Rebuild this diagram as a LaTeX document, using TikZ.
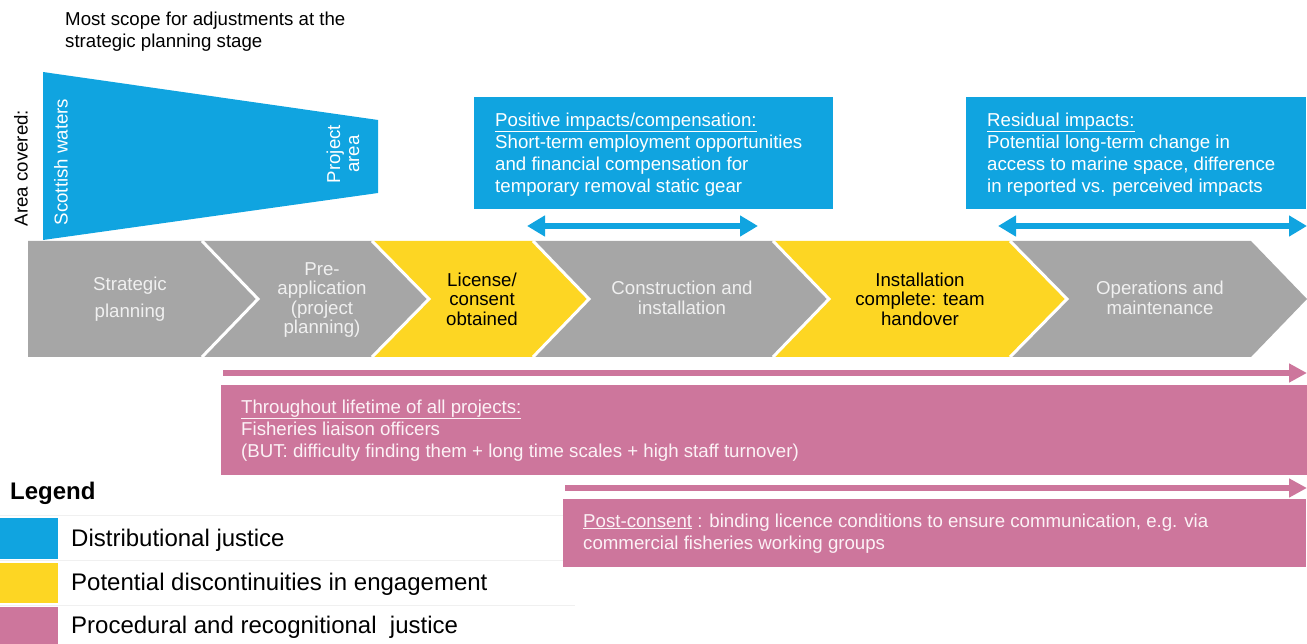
\documentclass[tikz,border=0pt]{standalone}
\usepackage{fontspec}
\setmainfont{Liberation Sans}
\usetikzlibrary{arrows.meta}

\definecolor{distblue}{RGB}{16,164,224}
\definecolor{gapyellow}{RGB}{253,214,35}
\definecolor{stagegray}{RGB}{166,166,166}
\definecolor{procpink}{RGB}{205,118,156}
\definecolor{paletext}{RGB}{252,242,246}

\begin{document}
\begin{tikzpicture}[x=1pt, y=-1pt, line join=miter,
    every node/.style={font=\fontsize{18.67}{22}\selectfont},
    stagetext/.style={align=center, text=white!94!black, font=\fontsize{18.67}{19.5}\selectfont},
    box/.style={anchor=north west, inner sep=0pt},
    boxtext/.style={anchor=west, align=left, inner sep=0pt},
    swatch/.style={anchor=north west, inner sep=0pt, minimum width=58pt},
    keytext/.style={anchor=base west, inner sep=0pt, font=\fontsize{24}{28}\selectfont},
    blueline/.style={distblue, line width=6pt, {Triangle[length=18pt,width=20pt]}-{Triangle[length=18pt,width=20pt]}},
    pinkline/.style={procpink, line width=6pt, -{Triangle[length=18pt,width=18pt]}}]

                \useasboundingbox (0,0) rectangle (1307,644);

                % faint rules of the legend table
                \draw[black!6] (0,515) -- (575,515);
                \draw[black!6] (0,560) -- (575,560);
                \draw[black!6] (0,605) -- (575,605);

                % funnel of the area covered
                \fill[distblue] (43,72) -- (378,120) -- (378,193) -- (43,240) -- cycle;
                \node[rotate=90] (covered) at (21,168) {Area covered:};
                \node[rotate=90, text=white] (waters) at (61,162) {Scottish waters};
                \node[rotate=90, align=center, text=white, font=\fontsize{18.67}{19}\selectfont] (projarea) at (343,154) {Project\\area};
                \node[anchor=north west, align=left, inner sep=0pt] (scope) at (65,12) {Most scope for adjustments at the\\strategic planning stage};

                % project stages
                \fill[stagegray] (28,241) -- (202,241) -- (258,299) -- (202,357) -- (28,357) -- cycle;
                \fill[stagegray] (202,241) -- (372,241) -- (429,299) -- (372,357) -- (202,357) -- (258,299) -- cycle;
                \fill[gapyellow] (372,241) -- (533,241) -- (589,299) -- (533,357) -- (372,357) -- (429,299) -- cycle;
                \fill[stagegray] (533,241) -- (773,241) -- (829,299) -- (773,357) -- (533,357) -- (589,299) -- cycle;
                \fill[gapyellow] (773,241) -- (1010,241) -- (1067,299) -- (1010,357) -- (773,357) -- (829,299) -- cycle;
                \fill[stagegray] (1010,241) -- (1251,241) -- (1307,299) -- (1251,357) -- (1010,357) -- (1067,299) -- cycle;

                \draw[white, line width=3pt] (202,241) -- (258,299) -- (202,357);
                \draw[white, line width=3pt] (372,241) -- (429,299) -- (372,357);
                \draw[white, line width=3pt] (533,241) -- (589,299) -- (533,357);
                \draw[white, line width=3pt] (773,241) -- (829,299) -- (773,357);
                \draw[white, line width=3pt] (1010,241) -- (1067,299) -- (1010,357);

                \node[stagetext] (strat) at (130,299) {Strategic\\[7pt]planning};
                \node[stagetext] (preapp) at (322,300) {Pre-\\application\\(project\\planning)};
                \node[stagetext, text=black] (licence) at (482,299) {License/\\consent\\obtained};
                \node[stagetext] (constr) at (682,298) {Construction and\\installation};
                \node[stagetext, text=black] (handover) at (920,299) {Installation\\complete: team\\handover};
                \node[stagetext] (ops) at (1160,298) {Operations and\\maintenance};

                % distributional justice
                \node[box, fill=distblue, minimum width=359pt, minimum height=112pt] (posbox) at (474,97) {};
                \node[boxtext, text=white] (postext) at ([xshift=21pt, yshift=-1pt]posbox.west) {\underline{Positive impacts/compensation:}\\Short-term employment opportunities\\and financial compensation for\\temporary removal static gear};
                \coordinate (pos l) at (527,226);
                \coordinate (pos r) at (758,226);
                \draw[blueline] (pos l) -- (pos r);

                \node[box, fill=distblue, minimum width=340pt, minimum height=112pt] (resbox) at (966,97) {};
                \node[boxtext, text=white] (restext) at ([xshift=21pt, yshift=-1pt]resbox.west) {\underline{Residual impacts:}\\Potential long-term change in\\access to marine space, difference\\in reported vs. perceived impacts};
                \coordinate (res l) at (998,226);
                \coordinate (res r) at (1307,226);
                \draw[blueline] (res l) -- (res r);

                % procedural and recognitional justice
                \coordinate (life l) at (223,373);
                \coordinate (life r) at (1307,373);
                \draw[pinkline] (life l) -- (life r);
                \node[box, fill=procpink, minimum width=1086pt, minimum height=90pt] (lifebox) at (221,385) {};
                \node[boxtext, text=paletext] (lifetext) at ([xshift=20pt]lifebox.west) {\underline{Throughout lifetime of all projects:}\\Fisheries liaison officers\\(BUT: difficulty finding them + long time scales + high staff turnover)};

                \coordinate (post l) at (565,488);
                \coordinate (post r) at (1307,488);
                \draw[pinkline] (post l) -- (post r);
                \node[box, fill=procpink, minimum width=743pt, minimum height=68pt] (postbox) at (563,499) {};
                \node[boxtext, text=paletext] (posttext) at ([xshift=20pt]postbox.west) {\underline{Post-consent} : binding licence conditions to ensure communication, e.g. via\\commercial fisheries working groups};

                % legend
                \node[anchor=base west, inner sep=0pt, font=\bfseries\fontsize{24}{28}\selectfont] (legend) at (10,499) {Legend};
                \node[swatch, fill=distblue, minimum height=41pt] (keyblue) at (0,518) {};
                \node[swatch, fill=gapyellow, minimum height=40pt] (keyyellow) at (0,563) {};
                \node[swatch, fill=procpink, minimum height=40pt] (keypink) at (0,607) {};
                \node[keytext] (keydist) at (71,546) {Distributional justice};
                \node[keytext] (keygap) at (71,590) {Potential discontinuities in engagement};
                \node[keytext] (keyproc) at (71,633) {Procedural and recognitional~ justice};

            \end{tikzpicture}
\end{document}
